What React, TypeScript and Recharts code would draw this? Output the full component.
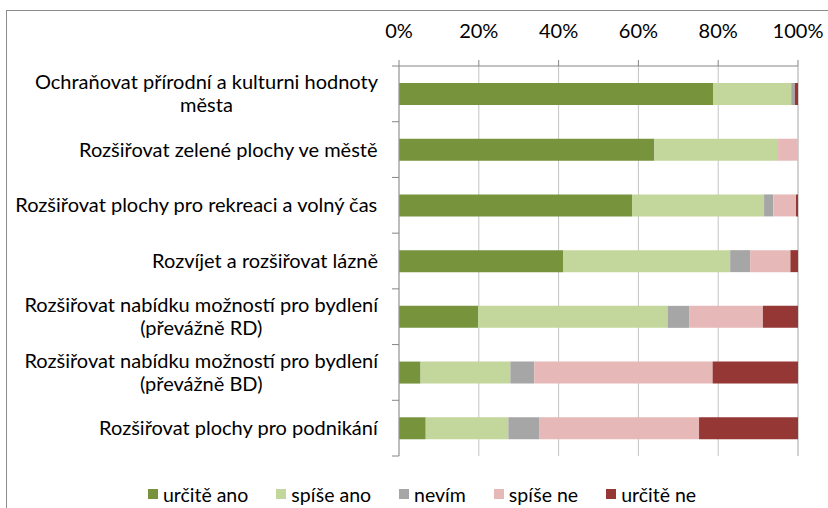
import React from 'react';
import { BarChart, Bar, XAxis, YAxis, CartesianGrid, Legend } from 'recharts';

const categories: string[][] = [
  ['Ochraňovat přírodní a kulturni hodnoty', 'města'],
  ['Rozšiřovat zelené plochy ve městě'],
  ['Rozšiřovat plochy pro rekreaci a volný čas'],
  ['Rozvíjet a rozšiřovat lázně'],
  ['Rozšiřovat nabídku možností pro bydlení', '(převážně RD)'],
  ['Rozšiřovat nabídku možností pro bydlení', '(převážně BD)'],
  ['Rozšiřovat plochy pro podnikání'],
];

const urciteAno = [78.7, 64.0, 58.4, 41.2, 19.8, 5.4, 6.7];
const spiseAno = [19.6, 31.0, 33.1, 41.8, 47.5, 22.5, 20.7];
const nevim = [0.9, 0, 2.3, 5.0, 5.4, 6.0, 7.7];
const spiseNe = [0, 5.0, 5.7, 10.1, 18.5, 44.7, 40.1];
const urciteNe = [0.8, 0, 0.5, 1.9, 8.8, 21.4, 24.8];

const xTicks = [0, 20, 40, 60, 80, 100];

const seriesDefs = [
  { key: 'urciteAno', name: 'určitě ano', color: '#77933C', values: urciteAno },
  { key: 'spiseAno', name: 'spíše ano', color: '#C3D69B', values: spiseAno },
  { key: 'nevim', name: 'nevím', color: '#A6A6A6', values: nevim },
  { key: 'spiseNe', name: 'spíše ne', color: '#E6B9B8', values: spiseNe },
  { key: 'urciteNe', name: 'určitě ne', color: '#953735', values: urciteNe },
];

const data = categories.map((lines, i) => {
  const row: Record<string, any> = { name: lines.join(' '), idx: i };
  seriesDefs.forEach((s) => {
    row[s.key] = s.values[i];
  });
  return row;
});

const W = 828;
const H = 508;
const LEGEND_H = 20;
const MARGIN = { top: 0, right: 30, bottom: 52 - LEGEND_H, left: 0 };
const X_AXIS_H = 66;
const Y_AXIS_W = 399;
const FONT = 'Lato, "Open Sans", sans-serif';
const FS = 20;
const BAND = (H - MARGIN.top - MARGIN.bottom - LEGEND_H - X_AXIS_H) / categories.length;

let ctx: CanvasRenderingContext2D | null = null;
function measure(t: string): number {
  if (!ctx) {
    const c = document.createElement('canvas');
    ctx = c.getContext('2d');
  }
  if (!ctx) return t.length * 9;
  ctx.font = `${FS}px Lato`;
  return ctx.measureText(t).width;
}

const YTick = (props: any) => {
  const { x, y, index } = props;
  const lines = categories[index] || [];
  const right = x - 21;
  const widest = Math.max(...lines.map(measure));
  const cx = right - widest / 2;
  const lh = 23;
  const startY = y - ((lines.length - 1) * lh) / 2 - 1;
  return (
    <g>
      {index === 0 && (
        <line x1={x - 7} x2={x} y1={y - BAND / 2} y2={y - BAND / 2} stroke="#868686" />
      )}
      <line x1={x - 7} x2={x} y1={y + BAND / 2} y2={y + BAND / 2} stroke="#868686" />
      <text
        textAnchor="middle"
        fontFamily={FONT}
        fontSize={FS}
        fill="#000"
        dominantBaseline="central"
      >
        {lines.map((l, i) => (
          <tspan key={i} x={cx} y={startY + i * lh}>
            {l}
          </tspan>
        ))}
      </text>
    </g>
  );
};

const LegendContent = () => (
  <div
    style={{
      display: 'flex',
      justifyContent: 'center',
      alignItems: 'center',
      fontFamily: FONT,
      fontSize: 19.5,
      color: '#000',
      width: W,
      height: LEGEND_H,
      paddingLeft: 16,
      boxSizing: 'border-box',
    }}
  >
    {seriesDefs.map((s) => (
      <div key={s.key} style={{ display: 'flex', alignItems: 'center', margin: '0 14px' }}>
        <span style={{ display: 'inline-block', width: 10, height: 10, background: s.color, marginRight: 5 }} />
        <span>{s.name}</span>
      </div>
    ))}
  </div>
);

export default function App() {
  return (
    <div style={{ position: 'absolute', left: 0, top: 0, width: W, height: H, background: '#fff', overflow: 'hidden' }}>
      <div
        style={{
          position: 'absolute',
          left: 6,
          top: 10,
          width: W,
          height: H,
          border: '1px solid #8c8c8c',
          boxSizing: 'border-box',
        }}
      />
      <div style={{ position: 'absolute', left: 0, top: 0 }}>
        <BarChart width={W} height={H} data={data} layout="vertical" margin={MARGIN}>
          <CartesianGrid horizontal={false} vertical stroke="#c4c4c4" />
          <XAxis
            type="number"
            orientation="top"
            domain={[0, 100]}
            ticks={xTicks}
            tickFormatter={(v: number) => `${v}%`}
            height={X_AXIS_H}
            tickSize={6}
            tickMargin={22}
            axisLine={{ stroke: '#868686' }}
            tickLine={{ stroke: '#868686' }}
            tick={{ fontFamily: FONT, fontSize: FS, fill: '#000' }}
            interval={0}
          />
          <YAxis
            type="category"
            dataKey="name"
            width={Y_AXIS_W}
            tickSize={0}
            tickMargin={0}
            tickLine={false}
            axisLine={{ stroke: '#9a9a9a' }}
            tick={<YTick />}
            interval={0}
          />
          {seriesDefs.map((s) => (
            <Bar
              key={s.key}
              dataKey={s.key}
              name={s.name}
              stackId="a"
              fill={s.color}
              barSize={22}
              isAnimationActive={false}
            />
          ))}
          <Legend
            verticalAlign="bottom"
            content={<LegendContent />}
            wrapperStyle={{ left: 0, bottom: 4, width: W, height: LEGEND_H }}
          />
        </BarChart>
      </div>
    </div>
  );
}
